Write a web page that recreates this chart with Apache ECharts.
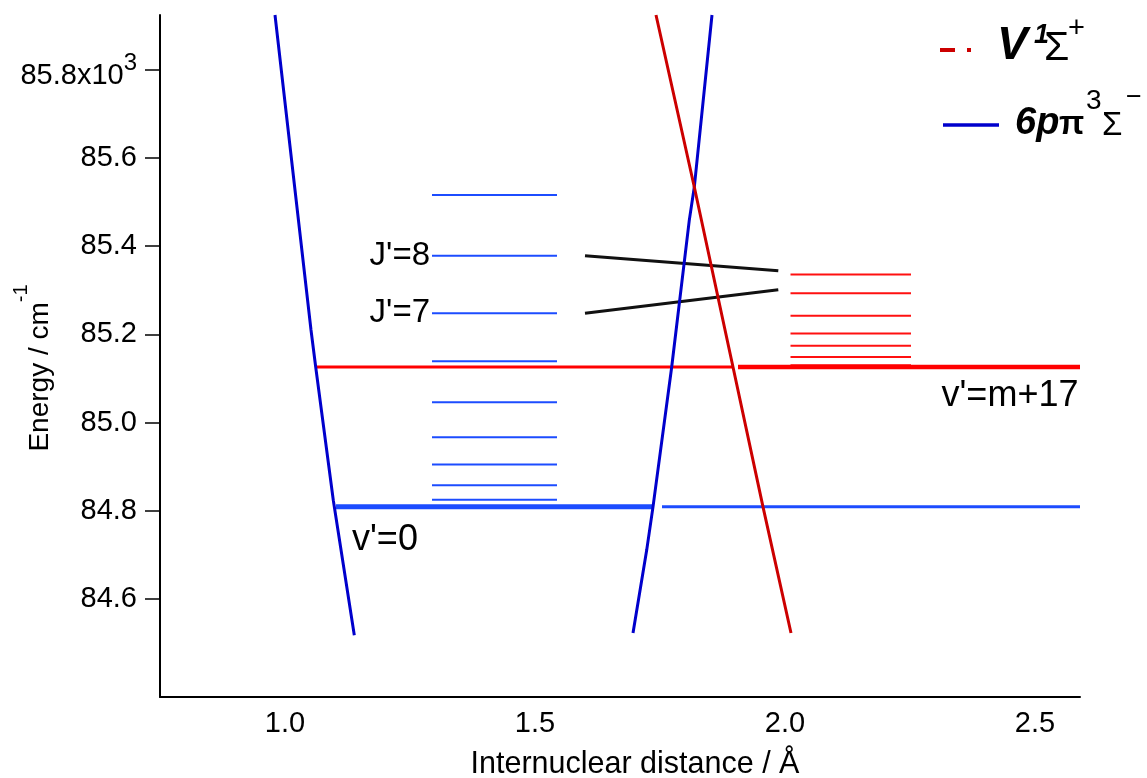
<!DOCTYPE html>
<html><head><meta charset="utf-8">
<script src="https://cdn.jsdelivr.net/npm/echarts@6/dist/echarts.min.js"></script>
<style>html,body{margin:0;padding:0;background:#fff}#c{width:1147px;height:778px}</style>
</head><body><div id="c"></div>
<script>
const FONT = '"Liberation Sans", Arial, Helvetica, sans-serif';

// ---- axes ----
const xTicks = [1.0, 1.5, 2.0, 2.5];
const yTicks = [84.6, 84.8, 85.0, 85.2, 85.4, 85.6, 85.8];   // x10^3 cm^-1
const xRange = [0.75, 2.59];
const yRange = [84.378, 85.924];

// ---- series names ----
const RED_NAME = 'V¹Σ⁺';
const BLUE_NAME = '6pπ³Σ⁻';

// ---- potential curves (R in Å, E in 10^3 cm^-1) ----
const blueInnerR = [0.98, 1.052, 1.0614, 1.0966, 1.1386];
const blueInnerE = [85.924, 85.210, 85.126, 84.824, 84.518];
const blueOuterR = [1.696, 1.7234, 1.736, 1.7734, 1.8086, 1.8186, 1.854];
const blueOuterE = [84.523, 84.711, 84.809, 85.126, 85.459, 85.534, 85.924];
const redR = [1.742, 1.8186, 1.896, 1.956, 2.012];
const redE = [85.924, 85.534, 85.126, 84.809, 84.523];

// ---- vibrational levels ----
const blueVibE = 84.809;                       // v'=0
const blueVibSegR = [[1.102, 1.734], [1.754, 2.59]];
const redVibE = 85.126;                        // v'=m+17
const redVibSegR = [[1.062, 1.896], [1.906, 2.59]];

// ---- rotational levels ----
const blueLevelR = [1.294, 1.544];
const blueLevelE = [84.809, 84.825, 84.858, 84.905, 84.967, 85.046, 85.139, 85.248, 85.378, 85.516];
const redLevelR = [2.011, 2.252];
const redLevelE = [85.129, 85.149, 85.174, 85.202, 85.242, 85.293, 85.336];

// ---- J' connectors ----
const linkR = [1.60, 1.9866];
const linkJ8E = [85.378, 85.344];
const linkJ7E = [85.248, 85.301];

// ---- annotations ----
const annoText = ["J'=8", "J'=7", "v'=0", "v'=m+17"];
const annoR = [1.294, 1.294, 1.134, 2.313];
const annoE = [85.378, 85.248, 84.734, 85.060];
const annoSide = ['left', 'left', 'right', 'right'];
const annoSize = [33, 33, 36, 36];

const zip = (a, b) => a.map((v, i) => [v, b[i]]);

function seg(name, r0, r1, e, color, width, z) {
  return { type: 'line', name, data: [[r0, e], [r1, e]], symbol: 'none', showSymbol: false,
    lineStyle: { color, width, cap: 'butt' }, itemStyle: { color }, silent: true, z: z || 2 };
}

const series = [];
blueLevelE.forEach((e, i) => series.push(seg('bJ' + i, blueLevelR[0], blueLevelR[1], e, '#1c4cff', 2, 2)));
redLevelE.forEach((e, i) => series.push(seg('rJ' + i, redLevelR[0], redLevelR[1], e, '#ff1010', i === 0 ? 3 : 2, 2)));
series.push(seg('bVib0', blueVibSegR[0][0], blueVibSegR[0][1], blueVibE, '#1c4cff', 5, 3));
series.push(seg('bVib1', blueVibSegR[1][0], blueVibSegR[1][1], blueVibE, '#1c4cff', 3, 3));
series.push(seg('rVib0', redVibSegR[0][0], redVibSegR[0][1], redVibE, '#ff0000', 3, 3));
series.push(seg('rVib1', redVibSegR[1][0], redVibSegR[1][1], redVibE, '#ff0000', 4.5, 3));

const curve = (name, data, color) => ({ type: 'line', name, data, symbol: 'none', showSymbol: false,
  lineStyle: { color, width: 3 }, itemStyle: { color }, silent: true, z: 5, clip: true });
series.push(curve(BLUE_NAME, zip(blueInnerR, blueInnerE), '#0000cc'));
series.push(curve(BLUE_NAME, zip(blueOuterR, blueOuterE), '#0000cc'));
series.push(curve(RED_NAME, zip(redR, redE), '#cc0000'));

const link = (name, e) => ({ type: 'line', name, data: zip(linkR, e), symbol: 'none', showSymbol: false,
  lineStyle: { color: '#111', width: 3 }, silent: true, z: 4 });
series.push(link('J8', linkJ8E));
series.push(link('J7', linkJ7E));

series.push({
  type: 'scatter', name: 'anno', symbolSize: 0, silent: true, z: 6,
  itemStyle: { opacity: 1 },
  label: { show: true, color: '#000', opacity: 1, fontFamily: FONT, textBorderWidth: 0 },
  data: annoText.map((t, i) => ({
    value: [annoR[i], annoE[i]],
    label: { show: true, formatter: t, position: annoSide[i], distance: annoSide[i] === 'left' ? 2 : 0,
      fontFamily: FONT, fontSize: annoSize[i], color: '#000', opacity: 1, textBorderWidth: 0 }
  }))
});

// ---- legend drawn as graphic (for superscript layout) ----
const txt = (text, x, y, size, weight, style) => ({
  type: 'text', x, y, silent: true, z: 10,
  style: { text, fill: '#000', fontFamily: FONT, fontSize: size, fontWeight: weight || 'normal',
    fontStyle: style || 'normal', align: 'left', verticalAlign: 'middle' }
});
const legendGraphic = [
  { type: 'rect', silent: true, shape: { x: 940, y: 48, width: 15, height: 4 }, style: { fill: '#cc0000' } },
  { type: 'rect', silent: true, shape: { x: 967, y: 48, width: 4, height: 4 }, style: { fill: '#cc0000' } },
  txt('V', 997, 46, 46, 'bold', 'italic'),
  txt('1', 1034, 36, 27, 'bold', 'italic'),
  txt('Σ', 1044, 49, 41),
  txt('+', 1068, 29, 29),
  { type: 'rect', silent: true, shape: { x: 943, y: 123.25, width: 56, height: 3.5 }, style: { fill: '#0000cc' } },
  txt('6p', 1015, 124, 38, 'bold', 'italic'),
  txt('π', 1059, 125, 33, 'bold'),
  txt('3', 1086, 101, 28),
  txt('Σ', 1102, 126, 33),
  txt('−', 1126, 98, 27)
];

const option = {
  animation: false,
  backgroundColor: '#fff',
  textStyle: { fontFamily: FONT },
  grid: { left: 160, right: 67, top: 15, bottom: 81, outerBoundsMode: 'none', containLabel: false },
  graphic: legendGraphic,
  xAxis: {
    type: 'value', min: xRange[0], max: xRange[1],
    name: 'Internuclear distance / Å', nameLocation: 'middle', nameGap: 52, nameMoveOverlap: false,
    nameTextStyle: { fontSize: 30.5, color: '#000', fontFamily: FONT, padding: [0, 0, 0, 30] },
    axisLine: { show: true, onZero: false, lineStyle: { color: '#000', width: 2 } },
    axisTick: { show: false },
    splitLine: { show: false },
    axisLabel: { customValues: xTicks, margin: 12, fontSize: 29, color: '#000', fontFamily: FONT,
      formatter: v => Number(v).toFixed(1) }
  },
  yAxis: {
    type: 'value', min: yRange[0], max: yRange[1],
    name: '{a|Energy / cm}{s|-1}', nameLocation: 'middle', nameGap: 101, nameRotate: 90, nameMoveOverlap: false,
    nameTextStyle: { fontSize: 28, color: '#000', fontFamily: FONT, padding: [0, 24, 0, 0], rich: {
      a: { fontSize: 28, padding: [10, 0, 0, 0], fontFamily: FONT },
      s: { fontSize: 20, padding: [0, 0, 28, 0], fontFamily: FONT }
    } },
    axisLine: { show: true, onZero: false, lineStyle: { color: '#000', width: 2 } },
    axisTick: { show: true, inside: false, length: 15, customValues: yTicks, lineStyle: { color: '#000', width: 1.5 } },
    splitLine: { show: false },
    axisLabel: { customValues: yTicks, margin: 23, fontSize: 29, color: '#000', fontFamily: FONT,
      formatter: v => Math.abs(v - 85.8) < 1e-6 ? '{n|85.8x10}{s|3}' : Number(v).toFixed(1),
      rich: {
        n: { fontSize: 29, padding: [13, 0, 0, 0], fontFamily: FONT },
        s: { fontSize: 24, padding: [0, 0, 12, 0], fontFamily: FONT }
      } }
  },
  series
};

const chart = echarts.init(document.getElementById('c'), null, { renderer: 'canvas' });
chart.setOption(option);
</script>
</body></html>
